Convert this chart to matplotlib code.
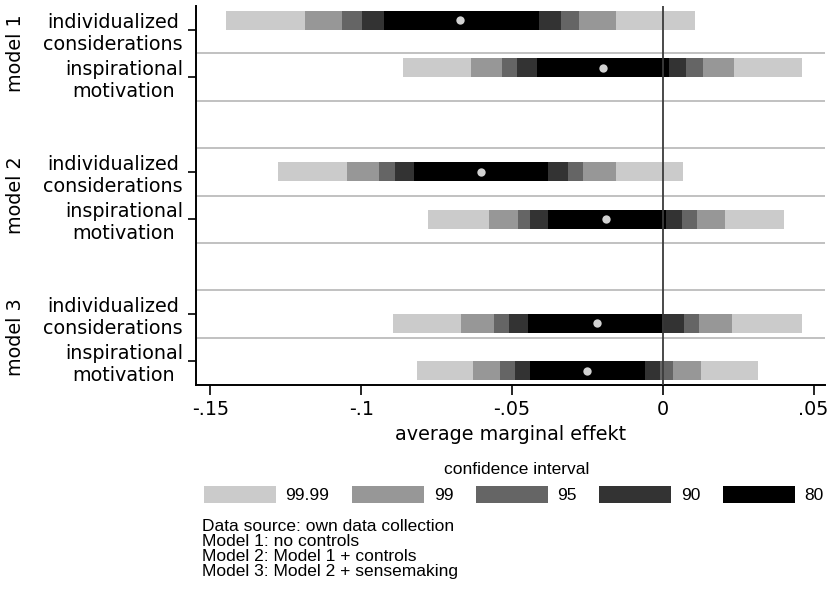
import numpy as np
import matplotlib
matplotlib.use('Agg')
import matplotlib.pyplot as plt
import matplotlib.transforms as mtransforms
from matplotlib.patches import Patch


# dados (limites dos intervalos de confianca)
modelos = ['model 1', 'model 2', 'model 3']
variaveis = ['individualized\nconsiderations', 'inspirational\nmotivation']
niveis = ['99.99', '99', '95', '90', '80']
cores = ['#cbcbcb', '#979797', '#656565', '#333333', '#000000']

# ordem: m1 indiv, m1 insp, m2 indiv, m2 insp, m3 indiv, m3 insp
estimativa = [-0.0673, -0.0199, -0.0603, -0.0188, -0.0219, -0.0250]

inferior = {
    '99.99': [-0.1447, -0.0861, -0.1275, -0.0780, -0.0894, -0.0816],
    '99':    [-0.1187, -0.0635, -0.1048, -0.0576, -0.0670, -0.0628],
    '95':    [-0.1063, -0.0534, -0.0940, -0.0481, -0.0561, -0.0541],
    '90':    [-0.0999, -0.0482, -0.0888, -0.0439, -0.0511, -0.0489],
    '80':    [-0.0925, -0.0417, -0.0824, -0.0381, -0.0446, -0.0439],
}
superior = {
    '99.99': [0.0106, 0.0461, 0.0068, 0.0403, 0.0461, 0.0317],
    '99':    [-0.0155, 0.0237, -0.0155, 0.0208, 0.0230, 0.0128],
    '95':    [-0.0279, 0.0135, -0.0264, 0.0114, 0.0121, 0.0033],
    '90':    [-0.0336, 0.0076, -0.0315, 0.0063, 0.0070, -0.0010],
    '80':    [-0.0409, 0.0019, -0.0382, 0.0010, 0.0004, -0.0060],
}

notas = ('Data source: own data collection\n'
         'Model 1: no controls\n'
         'Model 2: Model 1 + controls\n'
         'Model 3: Model 2 + sensemaking')

# posicoes das linhas (uma faixa vazia entre os modelos)
posicoes = []
for m in range(len(modelos)):
    for v in range(len(variaveis)):
        posicoes.append(m * 3 + v)
posicoes = np.array(posicoes)
deslocamento = np.repeat([-0.2, 0.0, 0.2], 2)   # coefplot offset
y_barras = posicoes + deslocamento

FONTE = 'DejaVu Sans'
FS = 13.8

fig = plt.figure(figsize=(8.34, 5.93), dpi=100)
ax = fig.add_axes([196 / 834, 1 - 385 / 593, (825 - 196) / 834, (385 - 6) / 593])

for nivel, cor in zip(niveis, cores):
    lo = np.array(inferior[nivel])
    hi = np.array(superior[nivel])
    ax.barh(y_barras, hi - lo, left=lo, height=0.4, color=cor, linewidth=0, zorder=2)

ax.plot(estimativa, y_barras, 'o', color='#d2d2d2', markersize=6, markeredgewidth=0, zorder=3)

# linhas separadoras
for yy in np.arange(0.5, 7.5, 1.0):
    ax.axhline(yy, color='#b0b0b0', linewidth=1.1, zorder=1)

ax.axvline(0, color='#3c3c3c', linewidth=1.3, zorder=4)

ax.set_xlim(-0.1548, 0.0538)
ax.set_ylim(7.5, -0.5)

ax.set_xticks([-0.15, -0.1, -0.05, 0, 0.05])
ax.set_xticklabels(['-.15', '-.1', '-.05', '0', '.05'], fontsize=FS, family=FONTE)
ax.set_yticks(posicoes)
ax.set_yticklabels(variaveis * 3, fontsize=FS, family=FONTE, multialignment='center')

ax.tick_params(axis='x', length=7, width=1.2, pad=4)
ax.tick_params(axis='y', length=5.5, width=1.2, pad=4)

for lado in ['top', 'right']:
    ax.spines[lado].set_visible(False)
for lado in ['left', 'bottom']:
    ax.spines[lado].set_linewidth(1.4)

ax.set_xlabel('average marginal effekt', fontsize=FS, family=FONTE, va='center')
ax.xaxis.set_label_coords(0.5, (385 - 435) / 379)

# rotulos dos modelos
trans = mtransforms.blended_transform_factory(fig.transFigure, ax.transData)
for m, nome in enumerate(modelos):
    fig.text(16 / 834, m * 3 + 0.5, nome, transform=trans, rotation=90,
             ha='center', va='center', fontsize=FS, family=FONTE)

# legenda
FN = 'Liberation Sans'
FSN = 12.5
fig.text(517 / 834, 1 - 469 / 593, 'confidence interval', ha='center', va='center',
         fontsize=FSN, family=FN)

handles = [Patch(facecolor=c, edgecolor='none') for c in cores]
fig.legend(handles, niveis, loc='center left', bbox_to_anchor=(204 / 834, 1 - 494.5 / 593),
           ncol=5, frameon=False, prop={'family': FN, 'size': FSN},
           handlelength=4.15, handleheight=1.1, handletextpad=0.55,
           columnspacing=1.3, borderpad=0, borderaxespad=0)

fig.text(202 / 834, 1 - 519 / 593, notas, ha='left', va='top', fontsize=FSN,
         family=FN, linespacing=1.0)

fig.savefig('out.png', dpi=100)
